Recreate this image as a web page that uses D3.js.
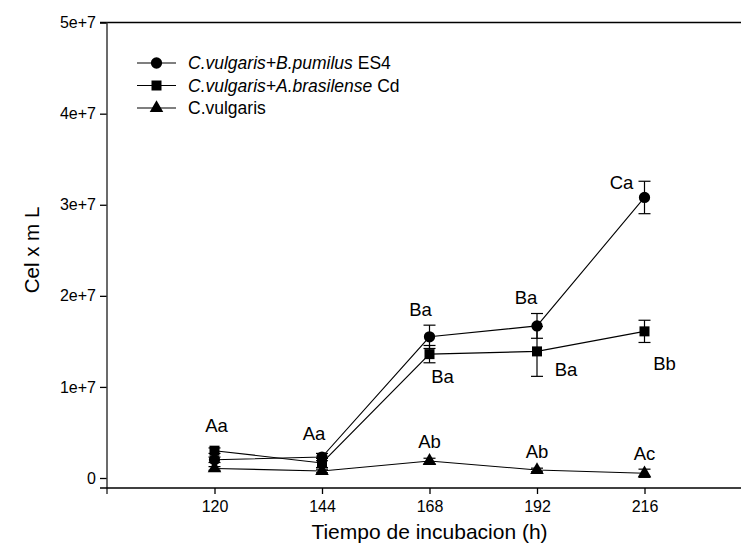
<!DOCTYPE html>
<html>
<head>
<meta charset="utf-8">
<script src="https://cdn.jsdelivr.net/npm/d3@7"></script>
<style>
  html, body { margin: 0; padding: 0; background: #fff; }
  svg { display: block; font-family: "Liberation Sans", Arial, sans-serif; }
</style>
</head>
<body>
<svg id="chart" width="741" height="544"></svg>
<script>
// Incubation times (h)
const hours = [120, 144, 168, 192, 216];

// Cell density (cells/mL) per treatment, with error bars
const pumilusMean = [2.0e6, 2.3e6, 1.55e7, 1.67e7, 3.08e7];
const pumilusErr  = [0.3e6, 0.4e6, 1.28e6, 1.36e6, 1.78e6];
const brasilenseMean = [3.0e6, 1.65e6, 1.36e7, 1.39e7, 1.61e7];
const brasilenseErr  = [0.3e6, 0.5e6, 0.95e6, 2.74e6, 1.22e6];
const vulgarisMean = [1.05e6, 0.77e6, 1.87e6, 0.88e6, 0.52e6];
const vulgarisErr  = [0.2e6, 0.2e6, 0.3e6, 0.2e6, 0.45e6];

// Axis ticks
const yTicks = [0, 1e7, 2e7, 3e7, 4e7, 5e7];
const yTickLabels = ["0", "1e+7", "2e+7", "3e+7", "4e+7", "5e+7"];
const xTicks = [120, 144, 168, 192, 216];

// Significance letters: text, series, point index
const letterText   = ["Aa", "Aa", "Ba", "Ba", "Ab", "Ba", "Ba", "Ab", "Ca", "Bb", "Ac"];
const letterSeries = ["brasilense", "pumilus", "pumilus", "brasilense", "vulgaris", "pumilus", "brasilense", "vulgaris", "pumilus", "brasilense", "vulgaris"];
const letterIndex  = [0, 1, 2, 2, 2, 3, 3, 3, 4, 4, 4];

const series = [
  { key: "pumilus", mean: pumilusMean, err: pumilusErr, symbol: d3.symbolCircle,
    legend: [["C.vulgaris+B.pumilus", true], [" ES4", false]] },
  { key: "brasilense", mean: brasilenseMean, err: brasilenseErr, symbol: d3.symbolSquare,
    legend: [["C.vulgaris+A.brasilense", true], [" Cd", false]] },
  { key: "vulgaris", mean: vulgarisMean, err: vulgarisErr, symbol: d3.symbolTriangle,
    legend: [["C.vulgaris", false]] }
];
const byKey = Object.fromEntries(series.map(s => [s.key, s]));

const svg = d3.select("#chart");

const x = d3.scaleLinear().domain([96, 264]).range([107, 859.5]);
const y = d3.scaleLinear().domain([0, 5e7]).range([478, 22.6]);
const xAxisY = 488;

// Frame: top line and axes
svg.append("line")
  .attr("x1", 100).attr("x2", 741).attr("y1", y(5e7)).attr("y2", y(5e7))
  .attr("stroke", "#000").attr("stroke-width", 1.5);

const yAxis = svg.append("g")
  .attr("transform", `translate(${x(96)},0)`)
  .call(d3.axisLeft(y).tickValues(yTicks).tickSize(7).tickSizeOuter(0)
    .tickFormat((d, i) => yTickLabels[i]));
yAxis.select(".domain").remove();
yAxis.selectAll(".tick line").attr("stroke", "#000").attr("stroke-width", 1.3);
yAxis.selectAll(".tick text").attr("font-size", 16).attr("fill", "#000")
  .attr("font-family", "Liberation Sans, Arial, sans-serif").attr("x", -11);
svg.append("line")
  .attr("x1", x(96)).attr("x2", x(96)).attr("y1", y(5e7)).attr("y2", xAxisY + 6)
  .attr("stroke", "#3a3a3a").attr("stroke-width", 1.5);

const xAxis = svg.append("g")
  .attr("transform", `translate(0,${xAxisY})`)
  .call(d3.axisBottom(x).tickValues(xTicks).tickSize(6).tickSizeOuter(0).tickFormat(d3.format("d")));
xAxis.select(".domain").remove();
xAxis.selectAll(".tick line").attr("stroke", "#000").attr("stroke-width", 1.3);
xAxis.selectAll(".tick text").attr("font-size", 16).attr("fill", "#000")
  .attr("font-family", "Liberation Sans, Arial, sans-serif").attr("y", 13);
svg.append("line")
  .attr("x1", 100).attr("x2", 741).attr("y1", xAxisY).attr("y2", xAxisY)
  .attr("stroke", "#000").attr("stroke-width", 1.5);

// Axis titles
svg.append("text")
  .attr("transform", "translate(31,250) rotate(-90)")
  .attr("text-anchor", "middle").attr("dominant-baseline", "central")
  .attr("font-size", 20.5).text("Cel x m L");
svg.append("text")
  .attr("x", x(168)).attr("y", 531)
  .attr("text-anchor", "middle").attr("dominant-baseline", "central")
  .attr("font-size", 21).text("Tiempo de incubacion (h)");

// Lines, error bars, markers
const line = d3.line().x((d, i) => x(hours[i])).y(d => y(d));
const capHalf = 6;

series.forEach(s => {
  svg.append("path").datum(s.mean)
    .attr("d", line).attr("fill", "none").attr("stroke", "#000").attr("stroke-width", 1.1);

  const eb = svg.append("g").attr("stroke", "#000").attr("stroke-width", 1.2);
  s.mean.forEach((m, i) => {
    const cx = x(hours[i]);
    const top = y(m + s.err[i]), bot = y(m - s.err[i]);
    eb.append("line").attr("x1", cx).attr("x2", cx).attr("y1", top).attr("y2", bot);
    eb.append("line").attr("x1", cx - capHalf).attr("x2", cx + capHalf).attr("y1", top).attr("y2", top);
    eb.append("line").attr("x1", cx - capHalf).attr("x2", cx + capHalf).attr("y1", bot).attr("y2", bot);
  });

  svg.append("g").selectAll("path").data(s.mean).join("path")
    .attr("transform", (d, i) => `translate(${x(hours[i])},${y(d)})`)
    .attr("d", d3.symbol().type(s.symbol).size(s.symbol === d3.symbolTriangle ? 80 : 100))
    .attr("fill", "#000");
});

// Letter placement relative to each point
const letterOffset = [
  [2, -25], [-8, -24], [-9, -27], [13, 22], [0, -19],
  [-11, -28], [29, 18], [0, -18], [-23, -15], [20, 32], [0, -20]
];
svg.append("g").selectAll("text").data(letterText).join("text")
  .attr("x", (d, i) => x(hours[letterIndex[i]]) + letterOffset[i][0])
  .attr("y", (d, i) => y(byKey[letterSeries[i]].mean[letterIndex[i]]) + letterOffset[i][1])
  .attr("text-anchor", "middle").attr("dominant-baseline", "central")
  .attr("font-size", 18.5).text(d => d);

// Legend
const legend = svg.append("g");
series.forEach((s, i) => {
  const ly = 63 + i * 22.5;
  legend.append("line").attr("x1", 137).attr("x2", 176).attr("y1", ly).attr("y2", ly)
    .attr("stroke", "#000").attr("stroke-width", 1.1);
  legend.append("path")
    .attr("transform", `translate(156.5,${ly})`)
    .attr("d", d3.symbol().type(s.symbol).size(s.symbol === d3.symbolTriangle ? 80 : 100))
    .attr("fill", "#000");
  const t = legend.append("text").attr("x", 188).attr("y", ly)
    .attr("dominant-baseline", "central").attr("font-size", 17.5);
  s.legend.forEach(([txt, it]) => {
    t.append("tspan").attr("font-style", it ? "italic" : "normal").text(txt);
  });
});
</script>
</body>
</html>
